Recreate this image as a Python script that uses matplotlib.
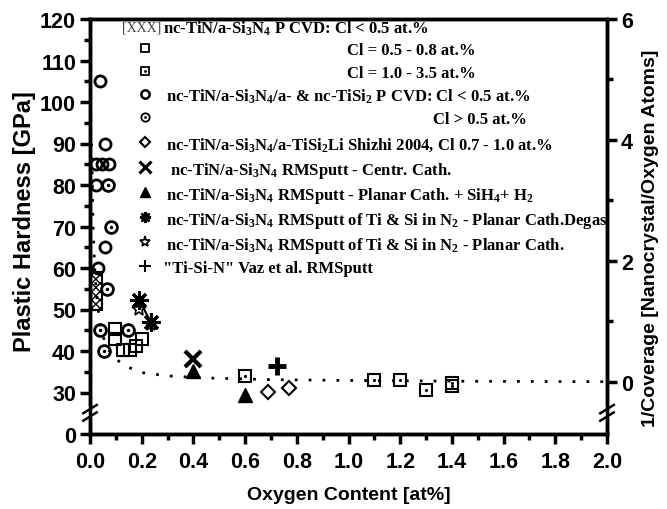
import matplotlib
matplotlib.use("Agg")
import matplotlib.pyplot as plt
import numpy as np
from matplotlib.ticker import FixedLocator

plt.rcParams['mathtext.default'] = 'regular'

# ---------------- data ----------------
# PCVD, Cl < 0.5 at.% (hatched box)
box_x = 0.025
box_width = 0.042
box_low = 50
box_high = 59

# PCVD Cl = 0.5-0.8 at.% (open squares)
sqA_x = [0.097, 0.097, 0.128, 0.155, 0.178, 0.200]
sqA_y = [45.2, 42.8, 40.3, 40.3, 41.2, 42.8]
# PCVD Cl = 1.0-3.5 at.% (squares with dot)
sqB_x = [0.60, 1.10, 1.20, 1.30, 1.40, 1.40]
sqB_y = [34.0, 32.9, 32.9, 30.7, 32.2, 31.5]
# nc-TiN/a-Si3N4/a- & nc-TiSi2, Cl < 0.5 (open circles)
cirA_x = [0.040, 0.058, 0.025, 0.048, 0.072, 0.025, 0.058, 0.031]
cirA_y = [105, 90, 85, 85, 85, 80, 65, 60]
# Cl > 0.5 (circles with dot)
cirB_x = [0.068, 0.083, 0.066, 0.039, 0.147, 0.056]
cirB_y = [80, 70, 55, 45, 45, 40]
# Li Shizhi 2004 (diamonds)
dia_x = [0.69, 0.77]
dia_y = [30.2, 31.0]
# RMSputt centr. cath. (x)
xm_x = [0.40]
xm_y = [38.0]
# RMSputt planar cath + SiH4 + H2 (filled triangles)
tri_x = [0.40, 0.60]
tri_y = [35.2, 29.3]
# RMSputt Ti & Si in N2 planar degas (asterisk)
ast_x = [0.19, 0.235]
ast_y = [52.3, 47.0]
# RMSputt Ti & Si in N2 planar (open star)
star_x = [0.19, 0.235]
star_y = [50.2, 46.5]
# Vaz et al. (plus)
plus_x = [0.725]
plus_y = [36.4]

# dotted curve
fit_x = [0.006, 0.008, 0.010, 0.013, 0.018, 0.025, 0.035, 0.05, 0.07, 0.09,
         0.14, 0.20, 0.30, 0.45, 0.70, 1.0, 1.5, 2.0]
fit_y = [90, 84, 76, 68, 60, 54, 48, 43.5, 40.5, 38.5,
         36.3, 34.8, 34.0, 33.5, 33.1, 32.9, 32.7, 32.6]

left_ticks = [20, 30, 40, 50, 60, 70, 80, 90, 100, 110, 120]
left_labels = ['0', '30', '40', '50', '60', '70', '80', '90', '100', '110', '120']
right_ticks = [0, 2, 4, 6]
x_ticks = [0.0, 0.2, 0.4, 0.6, 0.8, 1.0, 1.2, 1.4, 1.6, 1.8, 2.0]

# ---------------- figure ----------------
fig = plt.figure(figsize=(6.67, 5.10), dpi=100)
ax = fig.add_axes([90/667, 1-435/510, 517/667, 415/510])

ax.set_xlim(0, 2.0)
ax.set_ylim(20, 120)

lw_m = 1.5
ax.bar(box_x, box_high - box_low, bottom=box_low, width=box_width,
       fill=False, hatch='xxxx', edgecolor='black', linewidth=1.5, zorder=3)

ax.plot(fit_x, fit_y, color='black', linestyle=(0, (1, 4)), linewidth=2, zorder=2)

ax.plot(sqA_x, sqA_y, 's', ms=9, mfc='none', mec='black', mew=lw_m, zorder=4)
ax.plot(sqB_x, sqB_y, 's', ms=9, mfc='none', mec='black', mew=lw_m, zorder=4)
ax.plot(sqB_x, sqB_y, '.', ms=2.5, color='black', zorder=4)
ax.plot(cirA_x, cirA_y, 'o', ms=8, mfc='none', mec='black', mew=2, zorder=4)
ax.plot(cirB_x, cirB_y, 'o', ms=8.5, mfc='none', mec='black', mew=2, zorder=4)
ax.plot(cirB_x, cirB_y, '.', ms=3, color='black', zorder=4)
ax.plot(dia_x, dia_y, 'D', ms=7.5, mfc='none', mec='black', mew=lw_m, zorder=4)
ax.plot(xm_x, xm_y, 'x', ms=12, mec='black', mew=3, zorder=4)
ax.plot(tri_x, tri_y, '^', ms=10, color='black', zorder=4)
ax.plot(ast_x, ast_y, '-', color='black', lw=1.5, zorder=4)
ax.plot(ast_x, ast_y, marker=(8, 2, 0), ls='none', ms=13, mec='black', mew=2.2, zorder=4)
ax.plot(star_x, star_y, '*', ms=10, mfc='none', mec='black', mew=1.2, zorder=4)
ax.plot(plus_x, plus_y, '+', ms=13, mec='black', mew=3.5, zorder=4)

# axes styling
for s in ['left', 'right', 'top', 'bottom']:
    ax.spines[s].set_linewidth(2.5)

tick_font = dict(family='Liberation Sans', weight='bold', size=15.5)
ax.set_xticks(x_ticks)
ax.set_xticklabels([f'{t:.1f}' for t in x_ticks], fontdict=tick_font)
ax.xaxis.set_minor_locator(FixedLocator(np.arange(0.1, 2.0, 0.2)))
ax.set_yticks(left_ticks)
ax.set_yticklabels(left_labels, fontdict=tick_font)
ax.yaxis.set_minor_locator(FixedLocator([35, 45, 55, 65, 75, 85, 95, 105, 115]))
ax.tick_params(which='major', direction='out', length=7, width=2.5, pad=3)
ax.tick_params(axis='x', which='major', pad=5)
ax.tick_params(which='minor', direction='out', length=4, width=2.5)
ax.tick_params(axis='y', which='both', right=False)

ax.set_xlabel('Oxygen Content [at%]', family='Liberation Sans', weight='bold',
              size=14, labelpad=10)
ax.set_ylabel('Plastic Hardness [GPa]', family='Liberation Sans', weight='bold',
              size=17)
ax.yaxis.set_label_coords(-0.105, 0.515)

ax2 = ax.twinx()
ax2.set_ylim(-0.865, 6.0)
ax2.set_yticks(right_ticks)
ax2.set_yticklabels([str(t) for t in right_ticks], fontdict=tick_font)
ax2.yaxis.set_minor_locator(FixedLocator([1, 3, 5]))
ax2.tick_params(which='major', direction='out', length=7, width=2.5, pad=3)
ax2.tick_params(which='minor', direction='out', length=4, width=2.5)
for s in ['left', 'right', 'top', 'bottom']:
    ax2.spines[s].set_linewidth(2.5)
ax2.set_ylabel('1/Coverage [Nanocrystal/Oxygen Atoms]', family='Liberation Sans',
               weight='bold', size=14)
ax2.yaxis.set_label_coords(1.067, 0.475)

# axis breaks
for xa in (0.0, 1.0):
    ax.plot([xa, xa], [0.035, 0.068], transform=ax.transAxes, color='white',
            lw=4, clip_on=False, zorder=10, solid_capstyle='butt')
    ax.plot([xa - 0.013, xa + 0.013], [0.032, 0.052], transform=ax.transAxes,
            color='black', lw=1.8, clip_on=False, zorder=11)
    ax.plot([xa - 0.013, xa + 0.013], [0.050, 0.070], transform=ax.transAxes,
            color='black', lw=1.8, clip_on=False, zorder=11)

# ---------------- legend (manual) ----------------
def ax_x(px):
    return (px - 90) / 517

def ax_y(py):
    return (435 - py) / 415

lf = dict(family='Liberation Serif', weight='bold', size=12,
          transform=ax.transAxes, va='center_baseline', ha='left', zorder=12)
mx = ax_x(145)
rows = [27, 49, 72, 95, 118, 143, 168, 193, 218, 243, 267]
ry = [ax_y(r) for r in rows]
tr = ax.transAxes

ax.text(ax_x(122), ry[0], '[XXX]', family='Liberation Serif', size=10,
        color='#444444', transform=tr, va='center_baseline', ha='left')
ax.text(ax_x(163), ry[0], 'nc-TiN/a-Si$_3$N$_4$ P CVD: Cl < 0.5 at.%', **lf)

ax.plot([mx], [ry[1]], 's', ms=6, mfc='none', mec='black', mew=1.3, transform=tr)
ax.text(ax_x(347), ry[1], 'Cl = 0.5 - 0.8 at.%', **lf)

ax.plot([mx], [ry[2]], 's', ms=6, mfc='none', mec='black', mew=1.3, transform=tr)
ax.plot([mx], [ry[2]], '.', ms=2, color='black', transform=tr)
ax.text(ax_x(347), ry[2], 'Cl = 1.0 - 3.5 at.%', **lf)

ax.plot([mx], [ry[3]], 'o', ms=6, mfc='none', mec='black', mew=1.8, transform=tr)
ax.text(ax_x(166), ry[3], 'nc-TiN/a-Si$_3$N$_4$/a- & nc-TiSi$_2$ P CVD: Cl < 0.5 at.%', **lf)

ax.plot([mx], [ry[4]], 'o', ms=6, mfc='none', mec='black', mew=1.3, transform=tr)
ax.plot([mx], [ry[4]], '.', ms=2, color='black', transform=tr)
ax.text(ax_x(433), ry[4], 'Cl > 0.5 at.%', **lf)

ax.plot([mx], [ry[5]], 'D', ms=5.5, mfc='none', mec='black', mew=1.5, transform=tr)
ax.text(ax_x(166), ry[5], 'nc-TiN/a-Si$_3$N$_4$/a-TiSi$_2$Li Shizhi 2004, Cl 0.7 - 1.0 at.%', **lf)

ax.plot([mx], [ry[6]], 'x', ms=8, mec='black', mew=2.2, transform=tr)
ax.text(ax_x(170), ry[6], 'nc-TiN/a-Si$_3$N$_4$ RMSputt - Centr. Cath.', **lf)

ax.plot([mx], [ry[7]], '^', ms=7, color='black', transform=tr)
ax.text(ax_x(166), ry[7], 'nc-TiN/a-Si$_3$N$_4$ RMSputt - Planar Cath. + SiH$_4$+ H$_2$', **lf)

ax.plot([mx], [ry[8]], marker=(8, 2, 0), ms=8, mec='black', mew=1.8, transform=tr)
ax.text(ax_x(166), ry[8], 'nc-TiN/a-Si$_3$N$_4$ RMSputt of Ti & Si in N$_2$ - Planar Cath.Degas', **lf)

ax.plot([mx], [ry[9]], '*', ms=8, mfc='none', mec='black', mew=1.2, transform=tr)
ax.text(ax_x(166), ry[9], 'nc-TiN/a-Si$_3$N$_4$ RMSputt of Ti & Si in N$_2$ - Planar Cath.', **lf)

ax.plot([mx], [ry[10]], '+', ms=8, mec='black', mew=1.5, transform=tr)
ax.text(ax_x(163), ry[10], '"Ti-Si-N" Vaz et al. RMSputt', **lf)

fig.savefig('out.png', dpi=100)
